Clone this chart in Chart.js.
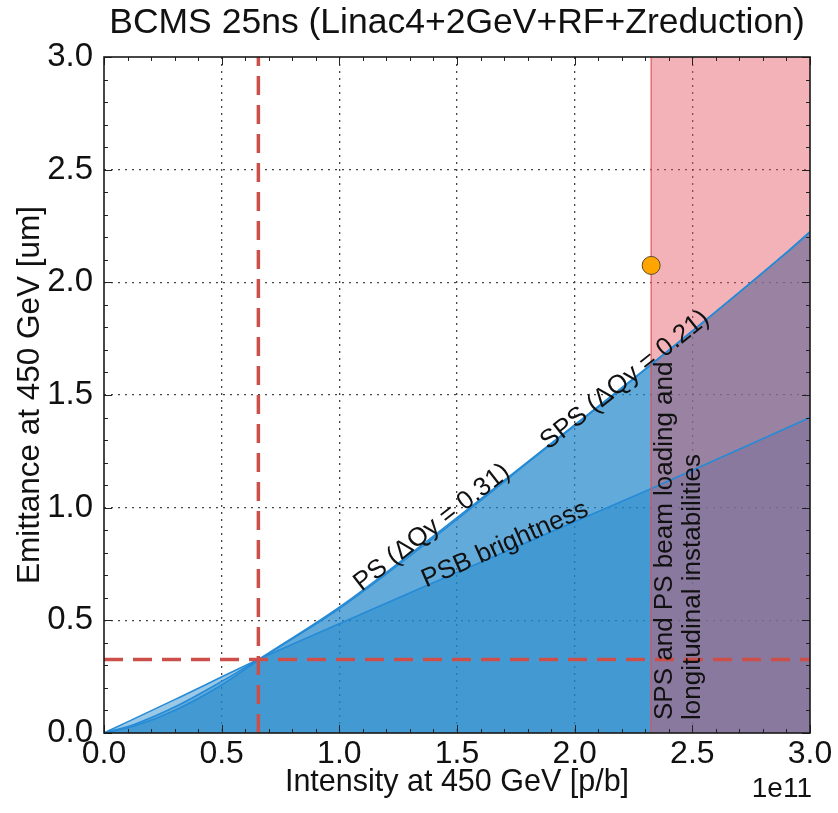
<!DOCTYPE html>
<html>
<head>
<meta charset="utf-8">
<script src="https://cdn.jsdelivr.net/npm/chart.js@4.4.0/dist/chart.umd.min.js"></script>
<style>
  html, body { margin: 0; padding: 0; background: #fff; }
  #wrap { width: 838px; height: 813px; }
</style>
</head>
<body>
<div id="wrap"><canvas id="brightnessChart"></canvas></div>
<script>
// Intensity in units of 1e11 p/b, emittance in um
const psbIntensity = [0, 0.3, 0.656, 1.0, 1.357, 2.15, 2.327, 3.0];
const psbEmittance = [0, 0.148, 0.326, 0.485, 0.648, 1.005, 1.085, 1.40];

const psIntensity = [0, 0.125, 0.3, 0.5, 0.656, 1.0, 1.343, 1.881, 2.327, 2.908, 3.0];
const psEmittance = [0, 0.037, 0.115, 0.229, 0.327, 0.558, 0.828, 1.27, 1.638, 2.14, 2.225];

const spsIntensity = [0, 0.125, 0.3, 0.5, 0.656, 1.0, 1.343, 1.881, 2.327, 2.908, 3.0];
const spsEmittance = [0, 0.030, 0.100, 0.213, 0.323, 0.552, 0.820, 1.266, 1.636, 2.138, 2.222];

// SPS/PS beam loading limit (shaded band) and achieved point
const limitIntensity = [2.325, 3.0];
const measIntensity = [2.325];
const measEmittance = [2.075];

// LIU target (dashed cross-hair)
const targetIntensity = 0.656;
const targetEmittance = 0.326;

// Axis ranges
const xRange = [0, 3.0];
const yRange = [0, 3.0];

// Text annotations
const curveLabels = ['PS (ΔQy = 0.31)', 'SPS (ΔQy = 0.21)', 'PSB brightness'];
const labelIntensity = [1.394, 2.214, 1.704];
const labelEmittance = [0.912, 1.566, 0.836];
const labelAngle = [-38, -38.5, -24];
const limitNote = ['SPS and PS beam loading and', 'longitudinal instabilities'];

const toPoints = (xs, ys) => xs.map((x, i) => ({ x: x, y: ys[i] }));
const isMajor = v => Math.abs(v * 2 - Math.round(v * 2)) < 1e-6;

const BLUE_FILL = 'rgba(32, 132, 202, 0.45)';
const BLUE_LINE = 'rgb(38, 139, 214)';
const RED_DASH = '#cd4f4a';
const FONT = "'Liberation Sans', Arial, sans-serif";

Chart.defaults.font.family = FONT;
Chart.defaults.color = '#111';

// Frame, inward ticks and text annotations
const decorations = {
  id: 'decorations',
  afterDatasetsDraw(chart) {
    const { ctx, scales: { x, y } } = chart;
    ctx.save();
    ctx.fillStyle = '#111';
    ctx.font = '26px ' + FONT;
    ctx.textAlign = 'center';
    ctx.textBaseline = 'middle';
    curveLabels.forEach((txt, i) => {
      ctx.save();
      ctx.translate(x.getPixelForValue(labelIntensity[i]), y.getPixelForValue(labelEmittance[i]));
      ctx.rotate(labelAngle[i] * Math.PI / 180);
      ctx.fillText(txt, 0, 0);
      ctx.restore();
    });
    // vertical note inside the shaded band
    const nx = x.getPixelForValue(limitIntensity[0]) + 14;
    const ny = y.getPixelForValue(0) - 13;
    ctx.textAlign = 'left';
    limitNote.forEach((txt, i) => {
      ctx.save();
      ctx.translate(nx + i * 28, ny);
      ctx.rotate(-Math.PI / 2);
      ctx.fillText(txt, 0, 0);
      ctx.restore();
    });
    ctx.restore();
  },
  afterDraw(chart) {
    const { ctx, chartArea: a, scales: { x, y } } = chart;
    ctx.save();
    ctx.strokeStyle = '#222';
    ctx.lineWidth = 1;
    ctx.beginPath();
    for (let k = 0; k <= 30; k++) {
      const v = k / 10;
      const len = isMajor(v) ? 8 : 4;
      const px = Math.round(x.getPixelForValue(v)) + 0.5;
      ctx.moveTo(px, a.bottom); ctx.lineTo(px, a.bottom - len);
      ctx.moveTo(px, a.top); ctx.lineTo(px, a.top + len);
      const py = Math.round(y.getPixelForValue(v)) + 0.5;
      ctx.moveTo(a.left, py); ctx.lineTo(a.left + len, py);
      ctx.moveTo(a.right, py); ctx.lineTo(a.right - len, py);
    }
    ctx.stroke();
    ctx.lineWidth = 1.6;
    ctx.strokeStyle = '#1a1a1a';
    ctx.strokeRect(a.left, a.top, a.right - a.left, a.bottom - a.top);
    // offset text of the x axis
    ctx.fillStyle = '#111';
    ctx.font = '28px ' + FONT;
    ctx.textAlign = 'right';
    ctx.textBaseline = 'middle';
    ctx.fillText('1e11', a.right + 2, 789);
    ctx.restore();
  }
};

const gridColor = ctx => {
  const v = ctx.tick && ctx.tick.value;
  return (v > 0.01 && v < 2.99 && isMajor(v)) ? 'rgba(50, 50, 50, 0.9)' : 'rgba(0,0,0,0)';
};

new Chart(document.getElementById('brightnessChart'), {
  type: 'scatter',
  data: {
    datasets: [
      {
        label: 'Achieved',
        data: toPoints(measIntensity, measEmittance),
        pointRadius: 9,
        pointBackgroundColor: '#ffa500',
        pointBorderColor: '#5c4a25',
        pointBorderWidth: 1,
        order: 0
      },
      {
        label: 'Target intensity',
        data: [{ x: targetIntensity, y: yRange[0] }, { x: targetIntensity, y: yRange[1] }],
        showLine: true,
        borderColor: RED_DASH,
        borderWidth: 3.5,
        borderDash: [19, 10],
        pointRadius: 0,
        order: 1
      },
      {
        label: 'Target emittance',
        data: [{ x: xRange[0], y: targetEmittance }, { x: xRange[1], y: targetEmittance }],
        showLine: true,
        borderColor: RED_DASH,
        borderWidth: 3.5,
        borderDash: [19, 10],
        pointRadius: 0,
        order: 1
      },
      {
        label: 'Limit edge',
        data: [{ x: limitIntensity[0], y: yRange[0] }, { x: limitIntensity[0], y: yRange[1] }],
        showLine: true,
        borderColor: 'rgb(226, 80, 86)',
        borderWidth: 1.2,
        pointRadius: 0,
        order: 2
      },
      {
        label: 'Beam loading limit',
        data: limitIntensity.map(v => ({ x: v, y: yRange[1] })),
        showLine: true,
        borderWidth: 0,
        borderColor: 'rgba(0,0,0,0)',
        backgroundColor: 'rgba(228, 80, 90, 0.44)',
        fill: 'origin',
        pointRadius: 0,
        order: 3
      },
      {
        label: 'PSB brightness',
        data: toPoints(psbIntensity, psbEmittance),
        showLine: true,
        borderColor: BLUE_LINE,
        borderWidth: 1.6,
        backgroundColor: BLUE_FILL,
        fill: 'origin',
        cubicInterpolationMode: 'monotone',
        pointRadius: 0,
        order: 4
      },
      {
        label: 'PS',
        data: toPoints(psIntensity, psEmittance),
        showLine: true,
        borderColor: BLUE_LINE,
        borderWidth: 1.6,
        backgroundColor: BLUE_FILL,
        fill: 'origin',
        cubicInterpolationMode: 'monotone',
        pointRadius: 0,
        order: 5
      },
      {
        label: 'SPS',
        data: toPoints(spsIntensity, spsEmittance),
        showLine: true,
        borderColor: BLUE_LINE,
        borderWidth: 1.6,
        backgroundColor: BLUE_FILL,
        fill: 'origin',
        cubicInterpolationMode: 'monotone',
        pointRadius: 0,
        order: 6
      }
    ]
  },
  options: {
    responsive: true,
    maintainAspectRatio: false,
    animation: false,
    layout: { padding: { left: 0, right: 28, top: 0, bottom: 0 } },
    plugins: {
      legend: { display: false },
      tooltip: { enabled: false },
      filler: { drawTime: 'beforeDatasetsDraw' },
      title: {
        display: true,
        fullSize: false,
        text: 'BCMS 25ns (Linac4+2GeV+RF+Zreduction)',
        font: { size: 35.5, weight: 'normal', lineHeight: 1.2 },
        color: '#111',
        padding: { top: 2, bottom: 12.4 }
      }
    },
    scales: {
      x: {
        type: 'linear',
        min: xRange[0],
        max: xRange[1],
        afterFit: s => { s.height = 80; },
        ticks: {
          stepSize: 0.1,
          autoSkip: false,
          maxRotation: 0,
          minRotation: 0,
          padding: 2,
          font: { size: 32 },
          color: '#111',
          callback: v => isMajor(v) ? v.toFixed(1) : ''
        },
        grid: { drawTicks: false, color: gridColor, lineWidth: 1.3, borderDash: [2, 5] },
        border: { display: false, dash: [2, 5] },
        title: {
          display: true,
          text: 'Intensity at 450 GeV [p/b]',
          font: { size: 30.5, lineHeight: 1.2 },
          color: '#111',
          padding: { top: 0, bottom: 12 }
        }
      },
      y: {
        type: 'linear',
        min: yRange[0],
        max: yRange[1],
        afterFit: s => { s.width = 104; },
        ticks: {
          stepSize: 0.1,
          autoSkip: false,
          padding: 11,
          font: { size: 33 },
          color: '#111',
          callback: v => isMajor(v) ? v.toFixed(1) : ''
        },
        grid: { drawTicks: false, color: gridColor, lineWidth: 1.3, borderDash: [2, 5] },
        border: { display: false, dash: [2, 5] },
        title: {
          display: true,
          text: 'Emittance at 450 GeV [um]',
          font: { size: 31.5, lineHeight: 1.2 },
          color: '#111',
          padding: { top: 11, bottom: 0 }
        }
      }
    }
  },
  plugins: [decorations]
});
</script>
</body>
</html>
